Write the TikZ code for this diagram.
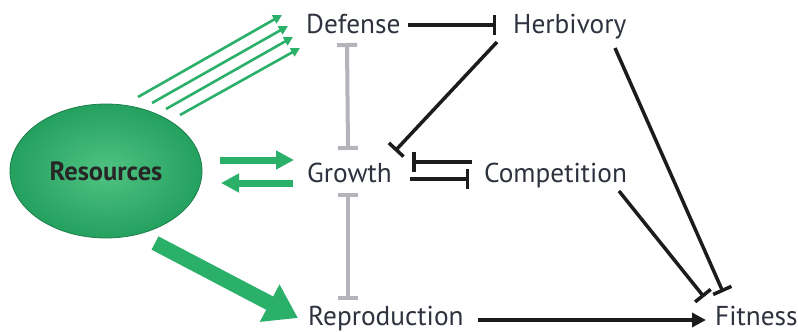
\documentclass[tikz,border=0pt]{standalone}
\usepackage{fontspec}
\setmainfont{PT Sans}
\usetikzlibrary{arrows.meta,shapes.geometric}
\definecolor{grn}{RGB}{43,176,106}
\definecolor{grnin}{RGB}{80,195,130}
\definecolor{grnout}{RGB}{36,160,95}
\definecolor{txt}{RGB}{45,50,62}
\definecolor{gbar}{RGB}{180,180,186}
\definecolor{blk}{RGB}{28,28,28}
\tikzset{
  lbl/.style={inner sep=0pt, anchor=base west, text=txt, font=\fontsize{27.3}{29}\selectfont},
  inhib/.style={draw=blk, line width=3.5pt, -{Bar[width=20pt]}},
  act/.style={draw=blk, line width=3.5pt, -{Triangle[length=14pt,width=14pt]}},
  grayinh/.style={draw=gbar, line width=4pt, {Bar[width=20pt]}-{Bar[width=20pt]}},
  thin/.style={draw=grn, line width=2.6pt, -{Triangle[length=9pt,width=9pt]}},
  mid/.style={draw=grn, line width=7pt, -{Triangle[length=18pt,width=18pt]}},
  big/.style={draw=grn, line width=15pt, -{Triangle[length=32pt,width=40pt]}}
}
\begin{document}
\begin{tikzpicture}[x=1pt,y=-1pt]
\useasboundingbox (0,0) rectangle (798,332);
\node[ellipse, minimum width=192pt, minimum height=134pt, inner color=grnin, outer color=grnout, draw=grnout!80!black, line width=0.8pt,
      font=\fontsize{26.5}{28}\selectfont\bfseries, text=black!85] (res) at (106,171) {Resources};
\node[lbl] (def) at (306,33) {Defense};
\node[lbl] (herb) at (513,33) {Herbivory};
\node[lbl] (gro) at (307,182) {Growth};
\node[lbl] (comp) at (484,182) {Competition};
\node[lbl] (rep) at (308,325) {Reproduction};
\node[lbl] (fit) at (715,325) {Fitness};
% green arrows
\draw[thin] ([shift={(32,-74)}]res.center) -- ([shift={(-24,-18)}]def.base west);
\draw[thin] ([shift={(46,-68)}]res.center) -- ([shift={(-18,-7)}]def.base west);
\draw[thin] ([shift={(60,-62)}]res.center) -- ([shift={(-13,4)}]def.base west);
\draw[thin] ([shift={(74,-56)}]res.center) -- ([shift={(-6,15)}]def.base west);
\draw[mid] ([shift={(114,-11)}]res.center) -- ([shift={(-13,-22)}]gro.base west);
\draw[mid] ([shift={(-14,1)}]gro.base west) -- ([shift={(115,12)}]res.center);
\draw[big] ([shift={(49,72)}]res.center) -- ([shift={(-10,-7)}]rep.base west);
% gray
\draw[grayinh] ([shift={(41,10)}]def.base west) -- ([shift={(41,-32)}]gro.base west);
\draw[grayinh] ([shift={(41,11)}]gro.base west) -- ([shift={(40,-25)}]rep.base west);
% black
\draw[inhib] ([shift={(102,-8)}]def.base west) -- ([shift={(-17,-8)}]herb.base west);
\draw[inhib] ([shift={(-16,9)}]herb.base west) -- ([shift={(88,-31)}]gro.base west);
\draw[inhib] ([shift={(-12,-20)}]comp.base west) -- ([shift={(105,-20)}]gro.base west);
\draw[inhib] ([shift={(103,-3)}]gro.base west) -- ([shift={(-15,-3)}]comp.base west);
\draw[inhib] ([shift={(102,15)}]herb.base west) -- ([shift={(8,-33)}]fit.base west);
\draw[inhib] ([shift={(135,9)}]comp.base west) -- ([shift={(-11,-28)}]fit.base west);
\draw[act] ([shift={(170,-5)}]rep.base west) -- ([shift={(-9,-5)}]fit.base west);
\end{tikzpicture}
\end{document}
